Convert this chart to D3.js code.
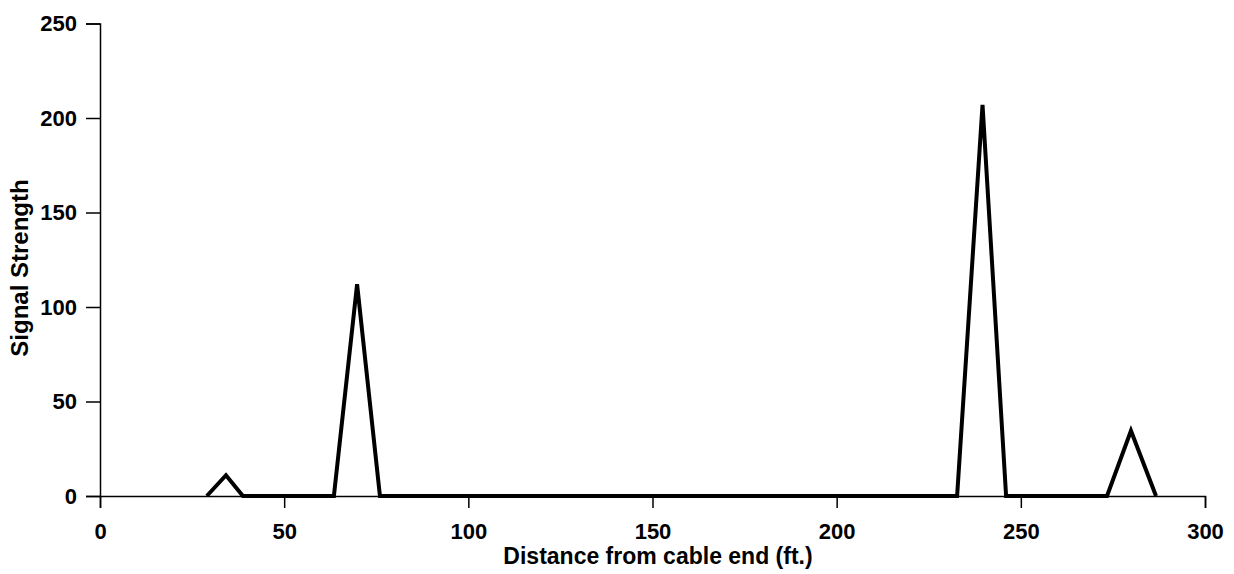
<!DOCTYPE html>
<html>
<head>
<meta charset="utf-8">
<script src="https://cdn.jsdelivr.net/npm/d3@7"></script>
<style>
  body { margin: 0; background: #fff; }
  svg { display: block; }
  .axis text { font-family: "Liberation Sans", Arial, sans-serif; font-weight: bold; font-size: 22px; fill: #000; }
  .axis path, .axis line { stroke: #000; stroke-width: 1.5; }
  .title { font-family: "Liberation Sans", Arial, sans-serif; font-weight: bold; font-size: 23px; fill: #000; }
</style>
</head>
<body>
<script>
"use strict";

var distance = [29, 34.2, 38.8, 63.5, 69.8, 76, 232.7, 239.6, 246, 273.4, 279.9, 286.7];
var signal = [0, 11, 0, 0, 112, 0, 0, 207, 0, 0, 34.5, 0];
var xTicks = [0, 50, 100, 150, 200, 250, 300];
var yTicks = [0, 50, 100, 150, 200, 250];

var width = 1234;
var height = 574;
var margin = { "top": 23.5, "bottom": 78, "left": 100, "right": 29 };

var svg = d3.select("body").append("svg").attr("width", width).attr("height", height);

var x = d3.scaleLinear().domain([0, 300]).range([margin.left, width - margin.right]);
var y = d3.scaleLinear().domain([0, 250]).range([height - margin.bottom, margin.top]);

var xAxis = d3.axisBottom(x).tickValues(xTicks).tickSize(12).tickPadding(15);
var yAxis = d3.axisLeft(y).tickValues(yTicks).tickSize(14).tickPadding(9);

svg.append("g").attr("class", "axis")
  .attr("transform", "translate(0," + (height - margin.bottom) + ")")
  .call(xAxis);
svg.append("g").attr("class", "axis")
  .attr("transform", "translate(" + margin.left + ",0)")
  .call(yAxis);

var pts = distance.map(function (d, i) { return [d, signal[i]]; });
var line = d3.line().x(function (d) { return x(d[0]); }).y(function (d) { return y(d[1]); });

svg.append("path")
  .datum(pts)
  .attr("d", line)
  .attr("fill", "none")
  .attr("stroke", "#000")
  .attr("stroke-width", 4)
  .attr("stroke-linejoin", "miter");

svg.append("text").attr("class", "title")
  .attr("x", 658).attr("y", 564)
  .attr("text-anchor", "middle")
  .text("Distance from cable end (ft.)");

svg.append("text").attr("class", "title")
  .attr("transform", "translate(28,268) rotate(-90)")
  .attr("text-anchor", "middle")
  .style("font-size", "24px")
  .text("Signal Strength");
</script>
</body>
</html>
